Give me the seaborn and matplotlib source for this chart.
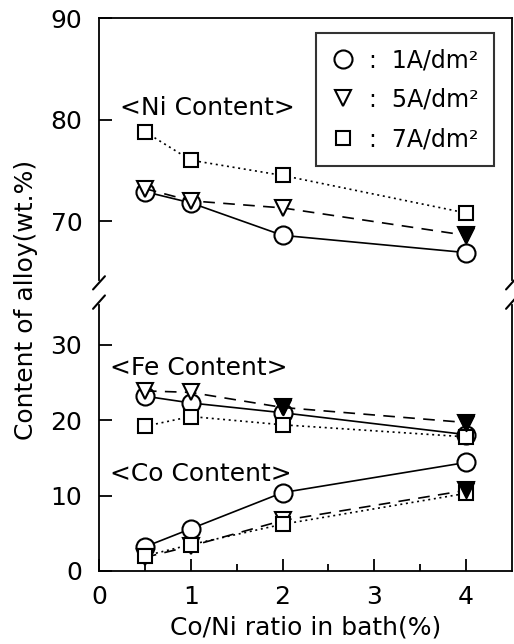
import matplotlib
matplotlib.use("Agg")
import matplotlib.pyplot as plt
import pandas as pd
import seaborn as sns

# Co/Ni ratio in the plating bath (%)
ratio = [0.5, 1, 2, 4]
densities = ["1A/dm²", "5A/dm²", "7A/dm²"]

# Ni content of the alloy (wt.%)
ni_1a = [72.9, 71.8, 68.6, 66.9]
ni_5a = [73.2, 72.0, 71.3, 68.6]
ni_7a = [78.8, 76.0, 74.5, 70.8]

# Fe content of the alloy (wt.%)
fe_1a = [23.2, 22.3, 21.0, 18.1]
fe_5a = [23.9, 23.7, 21.7, 19.7]
fe_7a = [19.2, 20.5, 19.4, 17.8]

# Co content of the alloy (wt.%)
co_1a = [3.2, 5.6, 10.4, 14.4]
co_5a = [1.8, 3.3, 6.7, 10.7]
co_7a = [2.0, 3.5, 6.2, 10.3]

# points printed with a solid triangle
solid_5a = [("Ni", 4), ("Fe", 2), ("Fe", 4), ("Co", 4)]

series = {
    "Ni": [ni_1a, ni_5a, ni_7a],
    "Fe": [fe_1a, fe_5a, fe_7a],
    "Co": [co_1a, co_5a, co_7a],
}
rows = []
for element, groups in series.items():
    for dens, values in zip(densities, groups):
        for r, v in zip(ratio, values):
            rows.append({"element": element, "density": dens, "ratio": r, "content": v})
df = pd.DataFrame(rows)

sns.set_style("ticks")
plt.rcParams["font.family"] = ["DejaVu Sans"]
plt.rcParams["font.size"] = 18
plt.rcParams["axes.linewidth"] = 1.3
for key in ("text.color", "axes.labelcolor", "xtick.color", "ytick.color",
            "axes.edgecolor"):
    plt.rcParams[key] = "black"

markers = {"1A/dm²": "o", "5A/dm²": "v", "7A/dm²": "s"}
dashes = {"1A/dm²": "", "5A/dm²": (7, 5), "7A/dm²": (1.2, 2.2)}
msizes = {"1A/dm²": 13, "5A/dm²": 11, "7A/dm²": 10}

fig = plt.figure(figsize=(5.14, 6.44), dpi=100)
ax_top = fig.add_axes([0.1926, 0.5652, 0.8035, 0.4068])
ax_bot = fig.add_axes([0.1926, 0.1134, 0.8035, 0.4130])


def draw(ax, element):
    sub = df[df["element"] == element]
    for dens in densities:
        part = sub[sub["density"] == dens]
        sns.lineplot(data=part, x="ratio", y="content", ax=ax, color="black",
                     lw=1.2, marker=markers[dens], markersize=msizes[dens],
                     markerfacecolor="white", markeredgecolor="black",
                     markeredgewidth=1.5, dashes=False, legend=False,
                     estimator=None, sort=False)
        line = ax.lines[-1]
        if dashes[dens]:
            line.set_dashes(dashes[dens])
    solid = [r for e, r in solid_5a if e == element]
    if solid:
        part = sub[(sub["density"] == "5A/dm²") & (sub["ratio"].isin(solid))]
        sns.scatterplot(data=part, x="ratio", y="content", ax=ax, marker="v",
                        s=msizes["5A/dm²"] ** 2, color="black",
                        edgecolor="black", linewidth=1.5, legend=False,
                        zorder=5)


draw(ax_top, "Ni")
draw(ax_bot, "Fe")
draw(ax_bot, "Co")

ax_top.set_xlim(0, 4.5)
ax_bot.set_xlim(0, 4.5)
ax_top.set_ylim(64.2, 90)
ax_bot.set_ylim(0, 35.3)

ax_top.set_yticks([70, 80, 90])
ax_bot.set_yticks([0, 10, 20, 30])
ax_bot.set_xticks([0, 1, 2, 3, 4])
ax_bot.set_xticks([0.5, 1.5, 2.5, 3.5], minor=True)
ax_top.set_xticks([])

for ax in (ax_top, ax_bot):
    ax.set_xlabel("")
    ax.set_ylabel("")
    ax.tick_params(axis="y", direction="in", length=9, width=1.3, pad=12,
                   labelsize=18, right=False)
    ax.tick_params(axis="x", direction="in", length=9, width=1.3, pad=10,
                   labelsize=18, top=False)
    ax.tick_params(axis="x", which="minor", direction="in", length=5,
                   width=1.3)
    for side in ("left", "right", "top", "bottom"):
        ax.spines[side].set_visible(True)
        ax.spines[side].set_color("black")

ax_top.spines["bottom"].set_visible(False)
ax_bot.spines["top"].set_visible(False)
ax_top.tick_params(axis="x", bottom=False, labelbottom=False)

# break marks on the y axis
d = 0.018
kw = dict(color="black", lw=1.5, clip_on=False)
ax_top.plot((-d * 0.8, d * 0.8), (-d * 2.0, d * 0.8), transform=ax_top.transAxes, **kw)
ax_top.plot((1 - d * 0.8, 1 + d * 0.8), (-d * 2.0, d * 0.8), transform=ax_top.transAxes, **kw)
ax_bot.plot((-d * 0.8, d * 0.8), (1 - d * 0.8, 1 + d * 2.0), transform=ax_bot.transAxes, **kw)
ax_bot.plot((1 - d * 0.8, 1 + d * 0.8), (1 - d * 0.8, 1 + d * 2.0), transform=ax_bot.transAxes, **kw)

ax_top.text(0.23, 81.1, "<Ni Content>", fontsize=18, va="center", ha="left")
ax_bot.text(0.12, 27.0, "<Fe Content>", fontsize=18, va="center", ha="left")
ax_bot.text(0.12, 12.9, "<Co Content>", fontsize=18, va="center", ha="left")

handles = [plt.Line2D([], [], ls="none", marker=markers[k], markersize=msizes[k],
                      markerfacecolor="white", markeredgecolor="black",
                      markeredgewidth=1.5) for k in densities]
leg = ax_top.legend(handles, [":  " + k for k in densities],
                    loc="upper right", bbox_to_anchor=(0.956, 0.943),
                    borderaxespad=0, frameon=True, fancybox=False,
                    fontsize=17, handlelength=1.0, handletextpad=0.6,
                    labelspacing=0.65, borderpad=0.65)
leg.get_frame().set_edgecolor("black")
leg.get_frame().set_linewidth(1.5)

fig.text(0.05, 0.535, "Content of alloy(wt.%)", rotation=90, fontsize=18,
         ha="center", va="center")
fig.text(0.594, 0.025, "Co/Ni ratio in bath(%)", fontsize=18, ha="center",
         va="center")

fig.savefig("out.png", dpi=100)
